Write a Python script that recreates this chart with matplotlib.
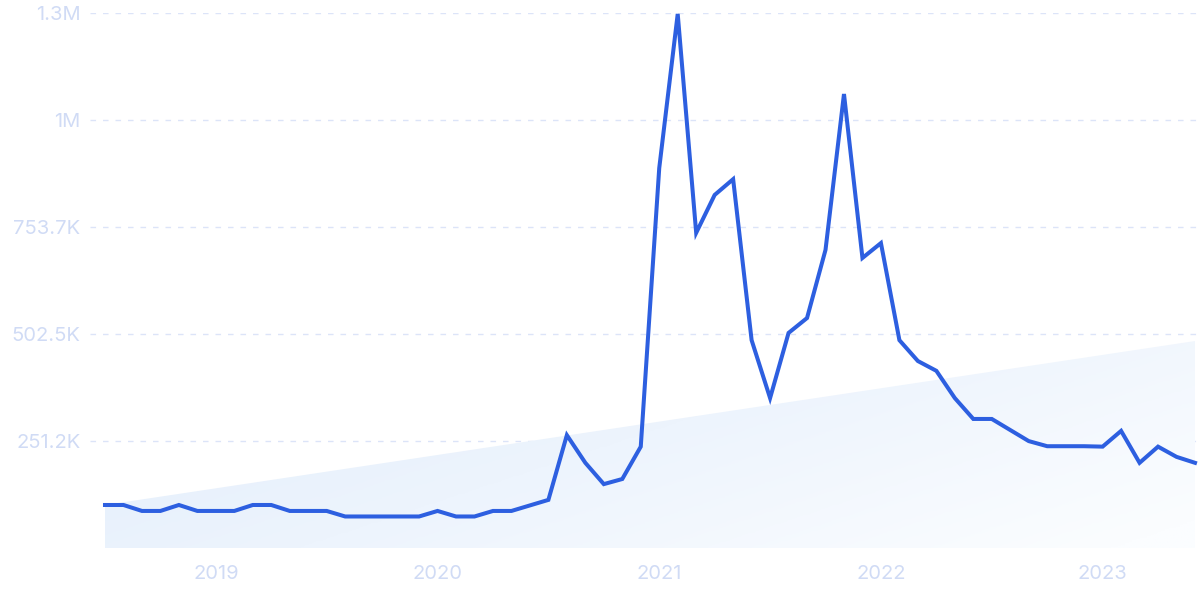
import numpy as np
import matplotlib.pyplot as plt
from matplotlib.patches import Polygon
from matplotlib.colors import LinearSegmentedColormap

plt.rcParams['font.family'] = ['Inter', 'DejaVu Sans']

# Datos mensuales (jul 2018 - jun 2023)
start_year = 2018.5
values = [101e3, 101e3, 87e3, 87e3, 101e3, 87e3, 87e3, 87e3, 101e3, 101e3,
          87e3, 87e3, 87e3, 74e3, 74e3, 74e3, 74e3, 74e3, 87e3, 74e3,
          74e3, 87e3, 87e3, 100e3, 113e3, 265e3, 200e3, 150e3, 162e3, 238e3,
          892e3, 1254e3, 740e3, 829e3, 866e3, 488e3, 352e3, 505e3, 540e3, 700e3,
          1066e3, 681e3, 716e3, 488e3, 439e3, 416e3, 352e3, 303e3, 303e3, 277e3,
          251e3, 239e3, 239e3, 239e3, 238e3, 275e3, 200e3, 238e3, 214e3, 200e3]
trend = [101e3, 486e3]
yticks = [251.24e3, 502.48e3, 753.72e3, 1004.96e3, 1256.2e3]
ytick_labels = ['251.2K', '502.5K', '753.7K', '1M', '1.3M']
xticks = [2019, 2020, 2021, 2022, 2023]

x = start_year + np.arange(len(values)) / 12.0

fig = plt.figure(figsize=(12, 6), dpi=100)
ax = fig.add_axes([90 / 1200, 52 / 600, 1110 / 1200, 535 / 600])

label_color = '#d0dbf5'
grid_color = '#dce4f8'

# Zona de tendencia con degradado
poly = Polygon([[x[0], 0], [x[0], trend[0]], [x[-1], trend[1]], [x[-1], 0]],
               closed=True, facecolor='none', edgecolor='none')
ax.add_patch(poly)
gx, gy = np.meshgrid(np.linspace(0, 1, 300), np.linspace(0, 1, 150))
grad = 0.7 * gx + 0.4 * (1 - gy)
cmap = LinearSegmentedColormap.from_list('g', ['#e1edfb', '#edf4fd', '#fbfdff'])
im = ax.imshow(grad, extent=[x[0], x[-1], 0, trend[1]], origin='lower',
               aspect='auto', cmap=cmap, vmin=0, vmax=1.05, zorder=1)
im.set_clip_path(poly)

# Línea principal
ax.plot(x, values, color='#2d5fe0', linewidth=2.9, solid_joinstyle='miter',
        zorder=3)

ax.set_xlim(start_year - 15 / 221.7, x[-1] + 5 / 221.7)
ax.set_ylim(0, yticks[-1])

ax.set_yticks(yticks)
ax.set_yticklabels(ytick_labels)
ax.set_xticks(xticks)
ax.set_xticklabels([str(t) for t in xticks])
ax.tick_params(axis='both', length=0, labelsize=14.5, labelcolor=label_color)
ax.tick_params(axis='y', pad=7)
ax.tick_params(axis='x', pad=12)

ax.grid(axis='y', color=grid_color, linewidth=1, linestyle=(0, (4, 5)))
ax.grid(axis='x', visible=False)
ax.set_axisbelow(True)
for s in ax.spines.values():
    s.set_visible(False)

fig.savefig('out.png', dpi=100)
